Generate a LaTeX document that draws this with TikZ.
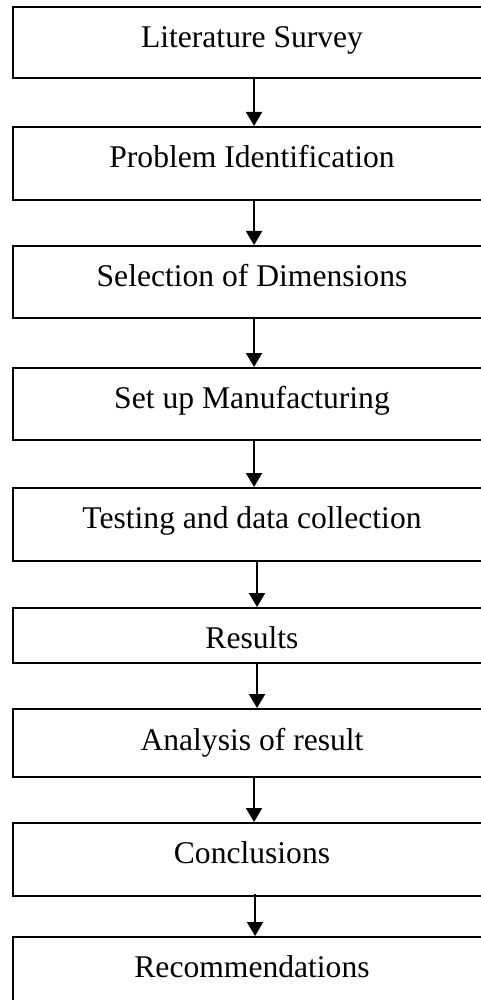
\documentclass[tikz,border=0pt]{standalone}
\usepackage{fontspec}
\setmainfont{Liberation Serif}
\usetikzlibrary{arrows.meta}
\tikzset{
  stagebox/.style={draw, line width=1pt, rectangle, minimum width=239.75pt, inner sep=0pt},
  stagetext/.style={anchor=base, inner sep=0pt, font=\fontsize{15.8}{18}\selectfont},
  flow/.style={line width=1pt, -{Triangle[width=8pt,length=7pt]}}
}
\begin{document}
\begin{tikzpicture}[x=0.5pt,y=-0.5pt]
\useasboundingbox (0,0) rectangle (481,1000);
\clip (0,0) rectangle (481,1000);
% process stages
\node[stagebox, minimum height=35.5pt] (b1) at (252.25,42.5) {};
\node[stagebox, minimum height=36.5pt] (b2) at (252.25,163.5) {};
\node[stagebox, minimum height=36pt]   (b3) at (252.25,282) {};
\node[stagebox, minimum height=36pt]   (b4) at (252.25,404) {};
\node[stagebox, minimum height=36.5pt] (b5) at (252.25,524.5) {};
\node[stagebox, minimum height=27.5pt] (b6) at (252.25,635.5) {};
\node[stagebox, minimum height=34pt]   (b7) at (252.25,743) {};
\node[stagebox, minimum height=36.5pt] (b8) at (252.25,859.5) {};
\node[stagebox, minimum height=37.5pt] (b9) at (252.25,974.5) {};
% stage labels
\node[stagetext] (t1) at (252,48)  {Literature Survey};
\node[stagetext] (t2) at (252,168) {Problem Identification};
\node[stagetext] (t3) at (252,286) {Selection of Dimensions};
\node[stagetext] (t4) at (252,408) {Set up Manufacturing};
\node[stagetext] (t5) at (252,528) {Testing and data collection};
\node[stagetext] (t6) at (252,648) {Results};
\node[stagetext] (t7) at (252,750) {Analysis of result};
\node[stagetext] (t8) at (252,863) {Conclusions};
\node[stagetext] (t9) at (252,977) {Recommendations};
% connectors
\draw[flow] ([xshift=0.9pt]b1.south) -- ([xshift=0.9pt]b2.north);
\draw[flow] ([xshift=0.9pt]b2.south) -- ([xshift=0.9pt]b3.north);
\draw[flow] ([xshift=0.9pt]b3.south) -- ([xshift=0.9pt]b4.north);
\draw[flow] ([xshift=0.9pt]b4.south) -- ([xshift=0.9pt]b5.north);
\draw[flow] ([xshift=2.4pt]b5.south) -- ([xshift=2.4pt]b6.north);
\draw[flow] ([xshift=2.4pt]b6.south) -- ([xshift=2.4pt]b7.north);
\draw[flow] ([xshift=0.9pt]b7.south) -- ([xshift=0.9pt]b8.north);
\draw[flow] ([xshift=1.4pt,yshift=1.5pt]b8.south) -- ([xshift=1.4pt]b9.north);
\end{tikzpicture}
\end{document}
